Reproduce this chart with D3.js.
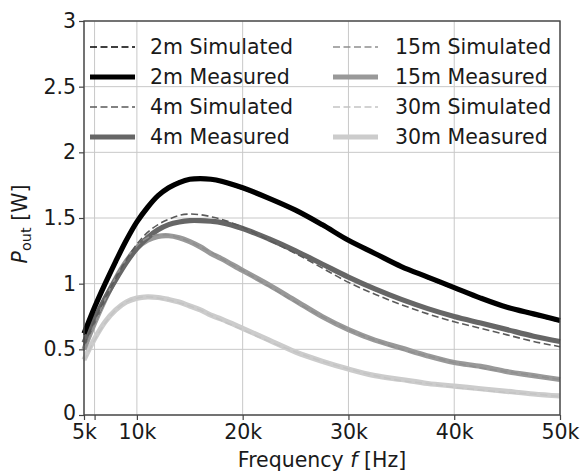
<!DOCTYPE html>
<html><head><meta charset="utf-8">
<script src="https://cdn.jsdelivr.net/npm/d3@7"></script>
<style>body{margin:0;background:#fff}svg{display:block}text{font-family:"DejaVu Sans",sans-serif;fill:#1a1a1a}</style>
</head><body>
<script>
const freq = [5000,6000,7000,8000,9000,10000,11000,12000,13000,14000,15000,16000,17000,18000,20000,22500,25000,27500,30000,32500,35000,37500,40000,42500,45000,47500,50000];
const meas2m  = [0.62,0.82,1.00,1.17,1.33,1.47,1.58,1.67,1.73,1.77,1.795,1.80,1.795,1.78,1.73,1.65,1.56,1.45,1.33,1.23,1.13,1.05,0.97,0.89,0.82,0.77,0.72];
const sim2m   = [0.61,0.81,0.99,1.17,1.33,1.47,1.59,1.68,1.74,1.78,1.80,1.80,1.79,1.77,1.72,1.64,1.55,1.44,1.33,1.23,1.13,1.04,0.96,0.89,0.82,0.76,0.71];
const meas4m  = [0.55,0.73,0.89,1.03,1.16,1.27,1.35,1.41,1.45,1.47,1.48,1.48,1.475,1.465,1.42,1.34,1.25,1.15,1.05,0.96,0.88,0.81,0.75,0.70,0.65,0.60,0.56];
const sim4m   = [0.53,0.72,0.89,1.04,1.18,1.30,1.39,1.45,1.49,1.52,1.53,1.525,1.51,1.49,1.43,1.33,1.23,1.12,1.01,0.92,0.84,0.77,0.71,0.66,0.61,0.56,0.52];
const meas15m = [0.50,0.70,0.88,1.04,1.17,1.27,1.33,1.36,1.365,1.35,1.32,1.28,1.23,1.19,1.10,0.99,0.87,0.75,0.65,0.57,0.51,0.45,0.40,0.37,0.33,0.30,0.27];
const sim15m  = [0.49,0.69,0.88,1.05,1.19,1.29,1.35,1.37,1.37,1.35,1.32,1.28,1.24,1.19,1.10,0.98,0.86,0.75,0.65,0.57,0.50,0.45,0.40,0.36,0.33,0.30,0.27];
const meas30m = [0.42,0.58,0.71,0.80,0.86,0.89,0.90,0.895,0.88,0.86,0.83,0.80,0.76,0.73,0.66,0.57,0.48,0.41,0.35,0.30,0.27,0.24,0.22,0.20,0.18,0.16,0.145];
const sim30m  = [0.41,0.57,0.70,0.80,0.86,0.89,0.90,0.89,0.875,0.855,0.83,0.80,0.76,0.72,0.65,0.56,0.48,0.41,0.35,0.30,0.26,0.24,0.21,0.19,0.17,0.16,0.14];
const xTicks = [5000,6000,10000,20000,30000,40000,50000];
const xTickLabels = ["5k","","10k","20k","30k","40k","50k"];
const yTicks = [0,0.5,1,1.5,2,2.5,3];
const yTickLabels = ["0","0.5","1","1.5","2","2.5","3"];
const seriesNames = ["2m Simulated","2m Measured","4m Simulated","4m Measured","15m Simulated","15m Measured","30m Simulated","30m Measured"];
const seriesData = [sim2m,meas2m,sim4m,meas4m,sim15m,meas15m,sim30m,meas30m];
const seriesColors = ["#000000","#000000","#5a5a5a","#666666","#8f8f8f","#999999","#c4c4c4","#cccccc"];
const seriesDashed = [true,false,true,false,true,false,true,false];

const W=580,H=472;
const svg=d3.select("body").append("svg").attr("width",W).attr("height",H);
const L=84,R=560,T=21,B=415;
const x=d3.scaleLinear().domain([5000,50000]).range([L,R]);
const y=d3.scaleLinear().domain([0,3]).range([B,T]);

const g=svg.append("g");
g.selectAll("line.gx").data(xTicks).enter().append("line")
 .attr("x1",d=>x(d)).attr("x2",d=>x(d)).attr("y1",T).attr("y2",B)
 .attr("stroke","#c8c8c8").attr("stroke-width",1);
g.selectAll("line.gy").data(yTicks).enter().append("line")
 .attr("y1",d=>y(d)).attr("y2",d=>y(d)).attr("x1",L).attr("x2",R)
 .attr("stroke","#c8c8c8").attr("stroke-width",1);

const line=d3.line().x((d,i)=>x(freq[i])).y(d=>y(d)).curve(d3.curveCatmullRom.alpha(0.5));
const order=[7,5,3,1,6,4,2,0];
order.forEach(i=>{
  svg.append("path").attr("d",line(seriesData[i])).attr("fill","none")
   .attr("stroke",seriesColors[i]).attr("stroke-width",seriesDashed[i]?1.6:5.2)
   .attr("stroke-dasharray",seriesDashed[i]?"7,3.5":null)
   .attr("stroke-linejoin","round");
});

const xAxis=d3.axisBottom(x).tickValues(xTicks).tickFormat((d,i)=>xTickLabels[i]).tickSize(5).tickPadding(4);
const yAxis=d3.axisLeft(y).tickValues(yTicks).tickFormat((d,i)=>yTickLabels[i]).tickSize(5).tickPadding(3);
const gx=svg.append("g").attr("transform",`translate(0,${B})`).call(xAxis);
const gy=svg.append("g").attr("transform",`translate(${L},0)`).call(yAxis);
[gx,gy].forEach(a=>{a.select(".domain").remove();a.selectAll("line").attr("stroke","#444").attr("stroke-width",1.2);
 a.selectAll("text").attr("font-size",20.5).attr("font-family","DejaVu Sans").attr("fill","#1a1a1a");});
gy.selectAll(".tick text").filter(d=>d===0).attr("dy","0.22em");
svg.append("rect").attr("x",L).attr("y",T).attr("width",R-L).attr("height",B-T)
 .attr("fill","none").attr("stroke","#444").attr("stroke-width",1.4);

const legRowY=[47,77,107,137];
seriesNames.forEach((n,i)=>{
  const col=Math.floor(i/4), row=i%4;
  const lx=col?333:90, tx=col?395:150, ly=legRowY[row];
  svg.append("line").attr("x1",lx).attr("x2",lx+45).attr("y1",ly).attr("y2",ly)
   .attr("stroke",seriesColors[i]).attr("stroke-width",seriesDashed[i]?1.6:5.2)
   .attr("stroke-dasharray",seriesDashed[i]?"7,3.5":null);
  svg.append("text").attr("x",tx).attr("y",ly).attr("dy","0.35em").attr("font-size",20.5).text(n);
});

const xl=svg.append("text").attr("x",(L+R)/2).attr("y",467).attr("text-anchor","middle").attr("font-size",20.5);
xl.append("tspan").text("Frequency ");
xl.append("tspan").attr("font-style","italic").text("f");
xl.append("tspan").text(" [Hz]");
const yl=svg.append("text").attr("transform",`translate(27,${(T+B)/2+6}) rotate(-90)`).attr("text-anchor","middle").attr("font-size",20.5);
yl.append("tspan").attr("font-style","italic").text("P");
yl.append("tspan").attr("font-size",14.5).attr("dy",4).text("out");
yl.append("tspan").attr("dy",-4).text(" [W]");
</script>
</body></html>
